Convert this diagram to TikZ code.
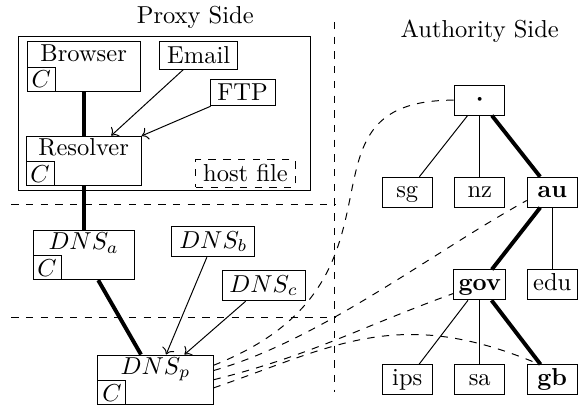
\documentclass[tikz,border=0pt]{standalone}
\usepackage{amsmath}
\usepackage{tikz}
\usetikzlibrary{shapes, arrows.meta, positioning}

\begin{document}
\begin{tikzpicture}[
    box/.style={draw, inner xsep=3pt, inner ysep=2pt},
    host/.style={draw, minimum height=0.71cm},
    cbox/.style={draw, minimum width=0.4cm, minimum height=0.34cm, inner sep=1pt},
    htext/.style={inner sep=0pt},
    zone/.style={draw, minimum width=0.72cm, minimum height=0.42cm, inner sep=2pt,
                 text height=1.5ex, text depth=.4ex},
    link/.style={ultra thick},
    query/.style={dashed}
    ]
    \useasboundingbox (0,0) rectangle (8.375,5.836);

    % proxy side
    \node (proxytitle) at (2.80,5.58) {Proxy Side};
    \draw (0.27,3.11) rectangle (4.45,5.31);
    \node[host, minimum width=1.62cm] (browser) at (1.20,4.88) {};
    \node[htext, below=1pt of browser.north] (browsertxt) {Browser};
    \node[cbox, above right=0pt of browser.south west] (browserc) {$C$};
    \node[box] (email) at (2.85,5.04) {Email};
    \node[box] (ftp) at (3.48,4.51) {FTP};
    \node[host, minimum width=1.65cm] (resolver) at (1.20,3.53) {};
    \node[htext, below=1pt of resolver.north] (resolvertxt) {Resolver};
    \node[cbox, above right=0pt of resolver.south west] (resolverc) {$C$};
    \node[box, dashed] (hostfile) at (3.52,3.35) {host file};

    % dns servers
    \node[host, minimum width=1.45cm] (dnsa) at (1.20,2.18) {};
    \node[htext, below=1pt of dnsa.north] (dnsatxt) {$DNS_a$};
    \node[cbox, above right=0pt of dnsa.south west] (dnsac) {$C$};
    \node[box] (dnsb) at (3.06,2.37) {$DNS_b$};
    \node[box] (dnsc) at (3.78,1.74) {$DNS_c$};
    \node[host, minimum width=1.65cm] (dnsp) at (2.23,0.39) {};
    \node[htext, below=1pt of dnsp.north] (dnsptxt) {$DNS_p$};
    \node[cbox, above right=0pt of dnsp.south west] (dnspc) {$C$};

    \draw[query] (0.16,2.90) -- (4.80,2.90);
    \draw[query] (0.16,1.29) -- (4.80,1.29);
    \draw[query] (4.80,5.52) -- (4.80,0.22);

    \draw[link] (browser) -- (resolver);
    \draw[link] (resolver) -- (dnsa);
    \draw[link] (dnsa) -- (dnsp);
    \draw[->] (email) -- (resolver);
    \draw[->] (ftp) -- (resolver);
    \draw[->] (dnsb) -- (dnsp);
    \draw[->] (dnsc) -- (dnsp);

    % authority side
    \node (authtitle) at (6.88,5.39) {Authority Side};
    \node[zone] (root) at (6.88,4.40) {$\boldsymbol{\cdot}$};
    \node[zone] (sg) at (5.84,3.08) {sg};
    \node[zone] (nz) at (6.88,3.08) {nz};
    \node[zone] (au) at (7.92,3.08) {\textbf{au}};
    \node[zone] (gov) at (6.88,1.75) {\textbf{gov}};
    \node[zone] (edu) at (7.92,1.75) {edu};
    \node[zone] (ips) at (5.84,0.39) {ips};
    \node[zone] (sa) at (6.88,0.39) {sa};
    \node[zone] (gb) at (7.92,0.39) {\textbf{gb}};

    \draw (root) -- (sg);
    \draw (root) -- (nz);
    \draw[link] (root) -- (au);
    \draw[link] (au) -- (gov);
    \draw (au) -- (edu);
    \draw (gov) -- (ips);
    \draw (gov) -- (sa);
    \draw[link] (gov) -- (gb);

    % queries from DNS_p
    \draw[query] (dnsp.14) .. controls +(3.1,1.22) and +(-2.5,0) .. (root.west);
    \draw[query] (dnsp.9) to[out=16, in=209, looseness=0.8] (au.198);
    \draw[query] (dnsp.east) to[out=14, in=200] (gov.198);
    \draw[query] (dnsp.-8) to[out=19, in=157, in looseness=1.2] (gb.130);
\end{tikzpicture}
\end{document}
